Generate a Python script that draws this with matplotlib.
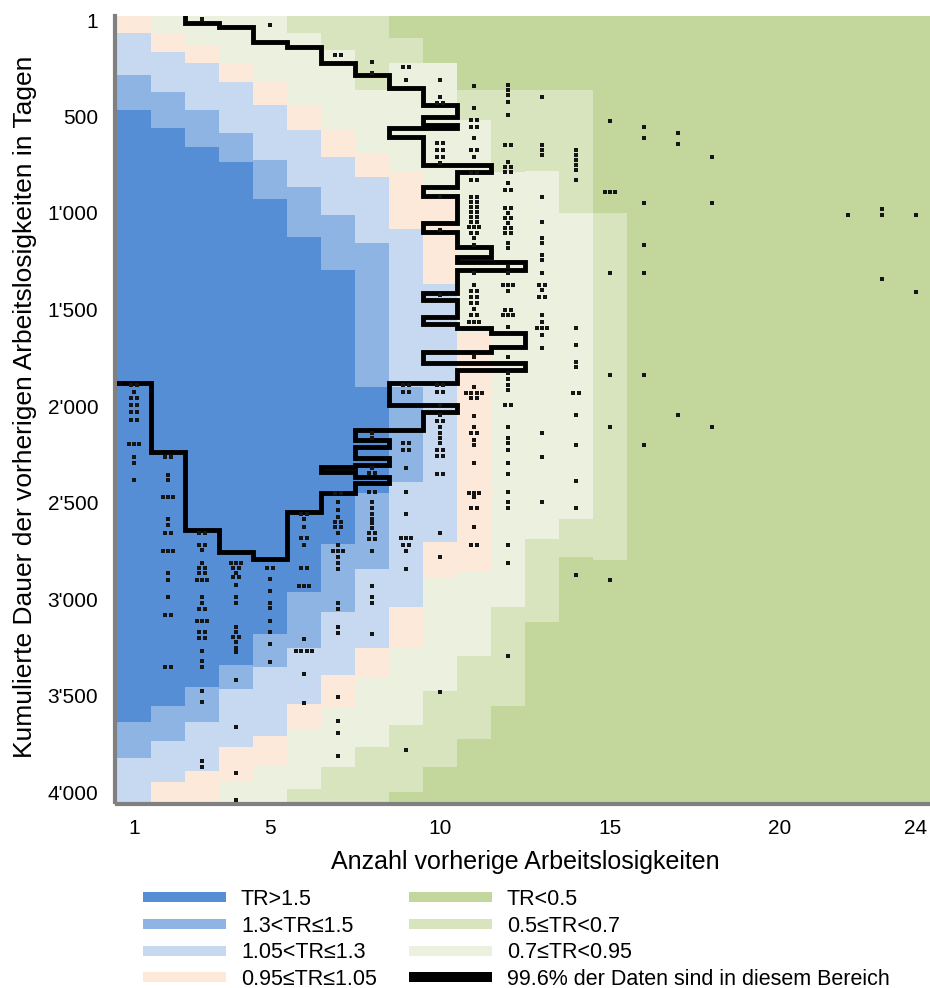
import numpy as np
import matplotlib
matplotlib.use("Agg")
import matplotlib.pyplot as plt
from matplotlib.colors import ListedColormap
from matplotlib.lines import Line2D

plt.rcParams["font.family"] = ["Liberation Sans", "DejaVu Sans"]

# TR classes (index 0..6) and their colours
tr_labels = ["TR>1.5", "1.3<TR≤1.5", "1.05<TR≤1.3", "0.95≤TR≤1.05",
             "0.7≤TR<0.95", "0.5≤TR<0.7", "TR<0.5"]
tr_colors = ["#558ED5", "#8DB4E2", "#C6D9F1", "#FDE9D9",
             "#EBF1DE", "#D7E4BD", "#C3D69B"]

# per column (1..24): runs of (class, end day), top to bottom
tr_runs = [
    [(3, 68), (2, 285), (1, 467), (0, 3637), (1, 3819), (2, 4050)],
    [(4, 68), (3, 166), (2, 373), (1, 560), (0, 3555), (1, 3736), (2, 3943), (3, 4050)],
    [(4, 130), (3, 223), (2, 467), (1, 658), (0, 3456), (1, 3637), (2, 3891), (3, 4050)],
    [(4, 223), (3, 322), (2, 585), (1, 736), (0, 3338), (1, 3467), (2, 3767), (3, 3943), (4, 4050)],
    [(4, 322), (3, 441), (2, 725), (1, 932), (0, 3182), (1, 3348), (2, 3710), (3, 3865), (4, 4050)],
    [(5, 68), (4, 441), (3, 570), (2, 865), (1, 1123), (0, 2965), (1, 3250), (2, 3544), (3, 3674), (4, 3984), (5, 4050)],
    [(5, 156), (4, 570), (3, 710), (2, 1010), (1, 1294), (0, 2717), (1, 3063), (2, 3389), (3, 3560), (4, 3870), (5, 4050)],
    [(5, 363), (4, 689), (3, 813), (2, 1155), (1, 1899), (0, 2448), (1, 2846), (2, 3250), (3, 3405), (4, 3767), (5, 4050)],
    [(6, 94), (5, 223), (4, 792), (3, 1087), (2, 1899), (1, 2396), (2, 3038), (3, 3250), (4, 3648), (5, 4000), (6, 4050)],
    [(6, 223), (4, 932), (3, 1372), (2, 2706), (3, 2887), (4, 3477), (5, 3870), (6, 4050)],
    [(6, 363), (5, 520), (4, 1620), (3, 2862), (4, 3296), (5, 3726), (6, 4050)],
    [(6, 363), (5, 792), (4, 3038), (5, 3555), (6, 4050)],
    [(6, 363), (5, 787), (4, 2691), (5, 3120), (6, 4050)],
    [(6, 363), (5, 999), (4, 2587), (5, 2779), (6, 4050)],
    [(6, 999), (5, 2794), (6, 4050)],
] + [[(6, 4050)]] * 9

# outline of the 99.6% region (column edges, days)
bound_x = [2.5, 2.5, 3.5, 3.5, 4.5, 4.5, 5.5, 5.5, 6.5, 6.5, 7.5, 7.5, 8.5, 8.5, 9.5, 9.5, 10.5,
           10.5, 9.5, 9.5, 10.5, 10.5, 8.5, 8.5, 9.5, 9.5, 11.5, 11.5, 10.5, 10.5, 9.5, 9.5, 10.5,
           10.5, 9.5, 9.5, 10.5, 10.5, 11.5, 11.5, 10.5, 10.5, 12.5, 12.5, 10.5, 10.5, 9.5, 9.5,
           10.5, 10.5, 9.5, 9.5, 10.5, 10.5, 11.5, 11.5, 12.5, 12.5, 11.5, 11.5, 9.5, 9.5, 12.5,
           12.5, 10.5, 10.5, 8.5, 8.5, 10.5, 10.5, 9.5, 9.5, 7.5, 7.5, 8.5, 8.5, 7.5, 7.5, 8.5,
           8.5, 7.5, 7.5, 6.5, 6.5, 7.5, 7.5, 8.5, 8.5, 7.5, 7.5, 6.5, 6.5, 5.5, 5.5, 4.5, 4.5,
           3.5, 3.5, 2.5, 2.5, 1.5, 1.5, 0.5]
bound_y = [-20, 16, 16, 37, 37, 115, 115, 141, 141, 223, 223, 285, 285, 353, 353, 441, 441,
           503, 503, 544, 544, 560, 560, 606, 606, 751, 751, 787, 787, 865, 865, 911, 911,
           1051, 1051, 1098, 1098, 1175, 1175, 1227, 1227, 1253, 1253, 1294, 1294, 1413, 1413, 1449,
           1449, 1537, 1537, 1574, 1574, 1594, 1594, 1620, 1620, 1693, 1693, 1718, 1718, 1775, 1775,
           1812, 1812, 1879, 1879, 1993, 1993, 2029, 2029, 2122, 2122, 2174, 2174, 2210, 2210, 2267, 2267,
           2303, 2303, 2313, 2313, 2339, 2339, 2365, 2365, 2396, 2396, 2448, 2448, 2546, 2546, 2794, 2794, 2758,
           2758, 2639, 2639, 2236, 2236, 1879, 1879]

# observations outside the region: column -> [(day, count), ...]
outliers = {
    1: [(1889, 2), (1925, 1), (1956, 2), (1993, 2), (2029, 2), (2070, 2), (2194, 3), (2262, 1), (2293, 1), (2381, 1)],
    2: [(2262, 2), (2355, 1), (2381, 1), (2469, 3), (2587, 1), (2618, 1), (2655, 2), (2748, 3), (2862, 1),
        (2898, 1), (2991, 1), (3084, 2), (3353, 2)],
    3: [(-4, 1), (2655, 2), (2717, 2), (2743, 1), (2810, 1), (2836, 2), (2862, 2), (2898, 3), (2991, 1), (3022, 1),
        (3053, 2), (3115, 3), (3172, 2), (3203, 2), (3270, 1), (3322, 1), (3353, 1), (3477, 1), (3534, 1),
        (3839, 1), (3870, 1)],
    4: [(2810, 3), (2836, 2), (2862, 1), (2887, 2), (2924, 1), (2991, 1), (3022, 1), (3146, 1), (3172, 1),
        (3198, 2), (3224, 1), (3250, 1), (3275, 1), (3420, 1), (3663, 1), (3901, 1), (4040, 1)],
    5: [(27, 1), (2836, 2), (2893, 1), (2960, 1), (3017, 1), (3043, 1), (3115, 1), (3172, 1), (3234, 1), (3327, 1)],
    6: [(2561, 2), (2587, 1), (2624, 1), (2681, 2), (2717, 1), (2836, 2), (2934, 3), (3208, 1), (3270, 4),
        (3389, 1), (3539, 1)],
    7: [(182, 2), (2448, 2), (2499, 1), (2536, 1), (2572, 1), (2598, 2), (2624, 2), (2655, 1), (2717, 1),
        (2748, 3), (2779, 1), (2810, 1), (2841, 1), (3022, 1), (3053, 1), (3146, 1), (3177, 1), (3508, 1),
        (3632, 1), (3694, 1), (3813, 1)],
    8: [(218, 1), (275, 1), (2137, 1), (2163, 1), (2319, 1), (2344, 2), (2443, 2), (2499, 1), (2530, 1),
        (2561, 1), (2587, 1), (2603, 1), (2629, 1), (2655, 2), (2686, 2), (2748, 1), (2934, 1), (2991, 1),
        (3022, 1), (3182, 1)],
    9: [(244, 2), (311, 1), (1889, 2), (1925, 2), (2189, 2), (2225, 2), (2319, 1), (2443, 1), (2561, 1),
        (2681, 3), (2717, 2), (2748, 1), (2841, 1), (3782, 1)],
    10: [(311, 1), (399, 1), (430, 2), (637, 2), (673, 2), (710, 2), (741, 1), (917, 1), (1087, 1), (1424, 1),
         (1889, 2), (1925, 2), (1993, 1), (2044, 1), (2075, 2), (2106, 1), (2137, 1), (2163, 1), (2189, 1),
         (2225, 2), (2256, 2), (2350, 2), (2655, 1), (2779, 1), (3482, 1)],
    11: [(342, 1), (456, 1), (518, 2), (554, 2), (611, 1), (673, 2), (710, 1), (792, 2), (829, 2), (917, 2),
         (942, 2), (968, 2), (994, 2), (1020, 2), (1046, 2), (1072, 3), (1103, 2), (1129, 1), (1165, 1),
         (1310, 1), (1372, 1), (1403, 2), (1434, 2), (1465, 2), (1496, 1), (1527, 2), (1563, 3), (1744, 1),
         (1899, 1), (1930, 4), (1956, 2), (2049, 1), (2106, 1), (2137, 2), (2174, 1), (2199, 1), (2293, 1),
         (2448, 3), (2469, 1), (2530, 2), (2624, 1), (2717, 2)],
    12: [(337, 1), (363, 1), (389, 1), (425, 1), (492, 1), (648, 2), (736, 1), (761, 2), (787, 2), (844, 1),
         (880, 2), (973, 2), (999, 1), (1025, 2), (1051, 1), (1077, 2), (1103, 2), (1155, 1), (1180, 1),
         (1279, 1), (1310, 1), (1372, 3), (1403, 1), (1501, 2), (1527, 3), (1589, 1), (1744, 1), (1827, 1),
         (1860, 1), (1889, 1), (1915, 1), (1993, 2), (2106, 1), (2163, 1), (2189, 1), (2225, 1), (2293, 1),
         (2350, 1), (2443, 1), (2499, 1), (2530, 1), (2717, 1), (2810, 1), (3296, 1)],
    13: [(399, 1), (648, 1), (673, 1), (699, 1), (917, 1), (1046, 1), (1129, 1), (1155, 1), (1217, 1),
         (1242, 1), (1310, 1), (1372, 2), (1398, 1), (1434, 2), (1527, 1), (1563, 1), (1594, 3), (1630, 1),
         (1698, 1), (2137, 1), (2262, 1), (2499, 1)],
    14: [(673, 1), (699, 1), (725, 1), (751, 1), (777, 1), (829, 1), (1594, 1), (1682, 1), (1770, 1),
         (1796, 1), (1930, 2), (2044, 1), (2199, 1), (2386, 1), (2530, 1), (2872, 1)],
    15: [(523, 1), (891, 3), (1310, 1), (1837, 1), (2106, 1), (2903, 1)],
    16: [(554, 1), (611, 1), (948, 1), (1165, 1), (1310, 1), (1837, 1), (2199, 1)],
    17: [(585, 1), (642, 1), (2044, 1)],
    18: [(710, 1), (948, 1), (2106, 1)],
    22: [(1010, 1)],
    23: [(979, 1), (1010, 1), (1341, 1)],
    24: [(1010, 1), (1408, 1)],
}

xticks = [1, 5, 10, 15, 20, 24]
yticks = [1, 500, 1000, 1500, 2000, 2500, 3000, 3500, 4000]
ytick_labels = ["1", "500", "1'000", "1'500", "2'000", "2'500", "3'000", "3'500", "4'000"]
region_label = "99.6% der Daten sind in diesem Bereich"

day_top, day_bot = -20, 4050

fig = plt.figure(figsize=(9.3, 9.88), dpi=100)
ax = fig.add_axes([117 / 930, 1 - 802 / 988, 816 / 930, 786 / 988])

# heat map of TR classes
y_edges = np.arange(day_top, day_bot + 1, 5)
yc = (y_edges[:-1] + y_edges[1:]) / 2
grid = np.full((len(yc), len(tr_runs)), 6)
for i, runs in enumerate(tr_runs):
    start = day_top
    for cls, end in runs:
        grid[(yc >= start) & (yc < end), i] = cls
        start = end
ax.pcolormesh(np.arange(0.5, len(tr_runs) + 1), y_edges, grid,
              cmap=ListedColormap(tr_colors), vmin=-0.5, vmax=6.5,
              shading="flat", linewidth=0, antialiased=False)

ax.plot(bound_x, bound_y, color="black", lw=3.5, solid_joinstyle="miter", zorder=3)

dx, dy = [], []
for col, pts in outliers.items():
    for day, n in pts:
        for k in range(n):
            dx.append(col + (k - (n - 1) / 2) * 0.16)
            dy.append(day)
ax.plot(dx, dy, "s", ms=2.3, color="#151515", mew=0, zorder=4)

ax.set_xlim(0.5, 24.5)
ax.set_ylim(day_bot, day_top)
ax.set_xticks(xticks)
ax.set_xticklabels([str(v) for v in xticks])
ax.set_yticks(yticks)
ax.set_yticklabels(ytick_labels)
ax.tick_params(axis="both", length=0, labelsize=15)
ax.tick_params(axis="y", pad=12)
ax.tick_params(axis="x", pad=11)

for s in ["top", "right"]:
    ax.spines[s].set_visible(False)
for s in ["left", "bottom"]:
    ax.spines[s].set_color("#808080")
    ax.spines[s].set_linewidth(3)
    ax.spines[s].set_position(("outward", 1.5))

ax.set_xlabel("Anzahl vorherige Arbeitslosigkeiten", fontsize=18)
ax.xaxis.set_label_coords(0.5, -0.076)
ax.xaxis.label.set_va("center")
ax.set_ylabel("Kumulierte Dauer der vorherigen Arbeitslosigkeiten in Tagen", fontsize=19)
ax.yaxis.set_label_coords(-0.113, 0.5025)
ax.yaxis.label.set_va("center")

def handle(c, lw=7.2):
    return Line2D([0], [0], color=c, lw=lw, solid_capstyle="butt")

leg_kw = dict(loc="upper left", frameon=False, borderpad=0, borderaxespad=0,
              handlelength=3.85, handletextpad=0.7, labelspacing=0.26, fontsize=15.5)
fig.legend([handle(tr_colors[i]) for i in range(4)], tr_labels[:4],
           bbox_to_anchor=(143 / 930, 1 - 889 / 988), **leg_kw)
fig.legend([handle(tr_colors[i]) for i in (6, 5, 4)] + [handle("black")],
           [tr_labels[i] for i in (6, 5, 4)] + [region_label],
           bbox_to_anchor=(409 / 930, 1 - 889 / 988), **leg_kw)

fig.savefig("out.png", dpi=100)
